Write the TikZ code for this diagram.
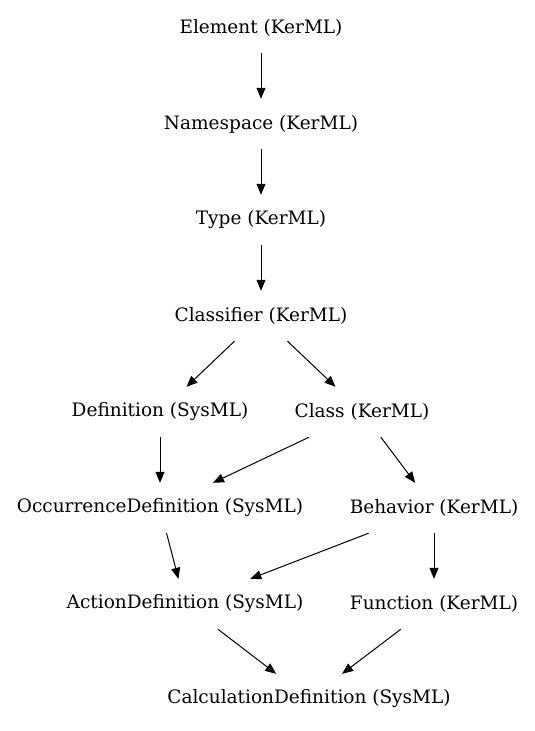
\documentclass[tikz,border=0pt]{standalone}
\usepackage{fontspec}
\setmainfont{DejaVu Serif}
\usetikzlibrary{arrows.meta}
\tikzset{
    cls/.style={inner xsep=0pt, minimum height=50pt, font=\fontsize{18.5}{21}\selectfont},
    gen/.style={-{Triangle[length=11pt,width=9pt]}, line width=1pt}
}
\begin{document}
\begin{tikzpicture}[x=1pt,y=-1pt]
    \useasboundingbox (0,0) rectangle (535,731);

    % Classes
    \node[cls] (element) at (261,28) {Element (KerML)};
    \node[cls] (namespace) at (261,124) {Namespace (KerML)};
    \node[cls] (type) at (261,220) {Type (KerML)};
    \node[cls] (classifier) at (261,316) {Classifier (KerML)};
    \node[cls] (definition) at (160,412) {Definition (SysML)};
    \node[cls] (class) at (362,412) {Class (KerML)};
    \node[cls] (occurrence) at (160,508) {OccurrenceDefinition (SysML)};
    \node[cls] (behavior) at (434,508) {Behavior (KerML)};
    \node[cls] (action) at (185,604) {ActionDefinition (SysML)};
    \node[cls] (function) at (434,604) {Function (KerML)};
    \node[cls] (calculation) at (309,699) {CalculationDefinition (SysML)};

    % Generalizations
    \draw[gen] (element) -- (namespace);
    \draw[gen] (namespace) -- (type);
    \draw[gen] (type) -- (classifier);
    \draw[gen] (classifier) -- (definition);
    \draw[gen] (classifier) -- (class);
    \draw[gen] (definition) -- (occurrence);
    \draw[gen] (class) -- (occurrence);
    \draw[gen] (class) -- (behavior);
    \draw[gen] (occurrence) -- (action);
    \draw[gen] (behavior) -- (action);
    \draw[gen] (behavior) -- (function);
    \draw[gen] (action) -- (calculation);
    \draw[gen] (function) -- (calculation);
\end{tikzpicture}
\end{document}
